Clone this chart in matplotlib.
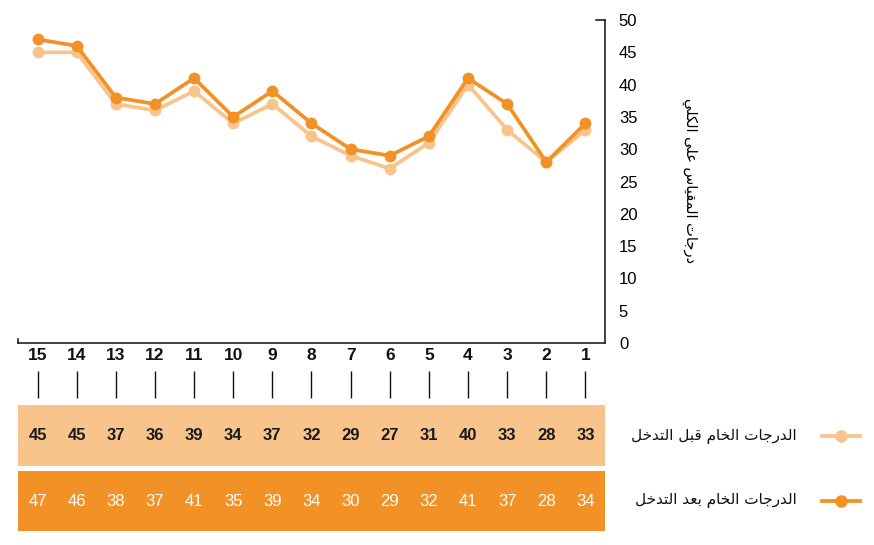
import matplotlib
matplotlib.use("Agg")
import matplotlib.pyplot as plt
from matplotlib.lines import Line2D

# ---------------- data ----------------
categories = list(range(1, 16))
before = [33, 28, 33, 40, 31, 27, 29, 32, 37, 34, 39, 36, 37, 45, 45]
after = [34, 28, 37, 41, 32, 29, 30, 34, 39, 35, 41, 37, 38, 46, 47]
yticks = [0, 5, 10, 15, 20, 25, 30, 35, 40, 45, 50]
label_before = "الدرجات الخام قبل التدخل"
label_after = "الدرجات الخام بعد التدخل"
y_label = "درجات المقياس على الكلي"

# ---------------- simple Arabic shaping ----------------
_FORMS = {
    'ا': (0xFE8D, 0xFE8E, None, None), 'أ': (0xFE83, 0xFE84, None, None),
    'د': (0xFEA9, 0xFEAA, None, None), 'ذ': (0xFEAB, 0xFEAC, None, None),
    'ر': (0xFEAD, 0xFEAE, None, None), 'ز': (0xFEAF, 0xFEB0, None, None),
    'و': (0xFEED, 0xFEEE, None, None), 'ة': (0xFE93, 0xFE94, None, None),
    'ى': (0xFEEF, 0xFEF0, None, None),
    'ب': (0xFE8F, 0xFE90, 0xFE91, 0xFE92), 'ت': (0xFE95, 0xFE96, 0xFE97, 0xFE98),
    'ج': (0xFE9D, 0xFE9E, 0xFE9F, 0xFEA0), 'ح': (0xFEA1, 0xFEA2, 0xFEA3, 0xFEA4),
    'خ': (0xFEA5, 0xFEA6, 0xFEA7, 0xFEA8), 'س': (0xFEB1, 0xFEB2, 0xFEB3, 0xFEB4),
    'ع': (0xFEC9, 0xFECA, 0xFECB, 0xFECC), 'ف': (0xFED1, 0xFED2, 0xFED3, 0xFED4),
    'ق': (0xFED5, 0xFED6, 0xFED7, 0xFED8), 'ك': (0xFED9, 0xFEDA, 0xFEDB, 0xFEDC),
    'ل': (0xFEDD, 0xFEDE, 0xFEDF, 0xFEE0), 'م': (0xFEE1, 0xFEE2, 0xFEE3, 0xFEE4),
    'ن': (0xFEE5, 0xFEE6, 0xFEE7, 0xFEE8), 'ه': (0xFEE9, 0xFEEA, 0xFEEB, 0xFEEC),
    'ي': (0xFEF1, 0xFEF2, 0xFEF3, 0xFEF4),
}


def shape(text):
    out = []
    n = len(text)
    for i, ch in enumerate(text):
        if ch not in _FORMS:
            out.append(ch)
            continue
        iso, fin, ini, med = _FORMS[ch]
        prev = text[i - 1] if i > 0 else None
        nxt = text[i + 1] if i + 1 < n else None
        join_prev = prev in _FORMS and _FORMS[prev][2] is not None
        join_next = ini is not None and nxt in _FORMS
        if join_prev and join_next:
            cp = med
        elif join_prev:
            cp = fin
        elif join_next:
            cp = ini
        else:
            cp = iso
        out.append(chr(cp))
    return "".join(out)[::-1]


# ---------------- style ----------------
light = "#F9C48C"
dark = "#F29126"
num_font = ["Liberation Sans Narrow", "Liberation Sans", "DejaVu Sans"]
ar_font = ["DejaVu Sans"]

W, H = 874, 545
fig = plt.figure(figsize=(W / 100, H / 100), dpi=100)

x0, x1 = 18, 605
ax = fig.add_axes([x0 / W, 1 - 343 / H, (x1 - x0) / W, (343 - 20) / H])
ax.plot(categories, before, color=light, lw=2.7, marker="o", ms=7.5, zorder=2)
ax.plot(categories, after, color=dark, lw=2.7, marker="o", ms=7.5, zorder=3)
ax.set_xlim(15.5, 0.5)
ax.set_ylim(0, 50)
for s in ["top", "left"]:
    ax.spines[s].set_visible(False)
ax.spines["right"].set_color("#222222")
ax.spines["bottom"].set_color("#222222")
ax.spines["right"].set_linewidth(1.2)
ax.spines["bottom"].set_linewidth(1.2)
ax.yaxis.tick_right()
ax.set_yticks(yticks)
ax.set_yticklabels([str(v) for v in yticks], family=num_font, fontsize=12)
ax.tick_params(axis="y", length=0, pad=10)
ax.set_xticks([])
# small end caps on the frame
ax.add_line(Line2D([0.985, 1.0], [1.0, 1.0], transform=ax.transAxes,
                   color="#222222", lw=1.2, clip_on=False))
ax.add_line(Line2D([0.0, 0.0], [0.0, 0.012], transform=ax.transAxes,
                   color="#222222", lw=1.2, clip_on=False))
fig.text(690 / W, 1 - 180 / H, shape(y_label), rotation=-90, family=ar_font,
         fontsize=10.5, ha="center", va="center")

# ---------------- table area ----------------
tx = fig.add_axes([x0 / W, 1 - 533 / H, (x1 - x0) / W, (533 - 345) / H])
tx.set_xlim(15.5, 0.5)
tx.set_ylim(533, 345)
tx.axis("off")
for c in categories:
    tx.text(c, 355, str(c), ha="center", va="center", family=num_font,
            fontsize=12.5, fontweight="bold", color="#111111")
tx.vlines(categories, 371, 398, color="#111111", lw=1.0)
tx.axhspan(405, 466, color=light, lw=0)
tx.axhspan(471, 531, color=dark, lw=0)
for c, b, a in zip(categories, before, after):
    tx.text(c, 436, str(b), ha="center", va="center", family=num_font,
            fontsize=12, fontweight="bold", color="#1a1a1a")
    tx.text(c, 501, str(a), ha="center", va="center", family=num_font,
            fontsize=12, color="white")

# ---------------- legend ----------------
for yy, col, lab in [(436, light, label_before), (501, dark, label_after)]:
    fy = 1 - yy / H
    fig.add_artist(Line2D([822 / W, 860 / W], [fy, fy], color=col, lw=2.7))
    fig.add_artist(Line2D([841 / W], [fy], color=col, marker="o", ms=8, lw=0))
    fig.text(797 / W, fy, shape(lab), ha="right", va="center", family=ar_font,
             fontsize=11, color="#111111")

fig.savefig("out.png", dpi=100)
